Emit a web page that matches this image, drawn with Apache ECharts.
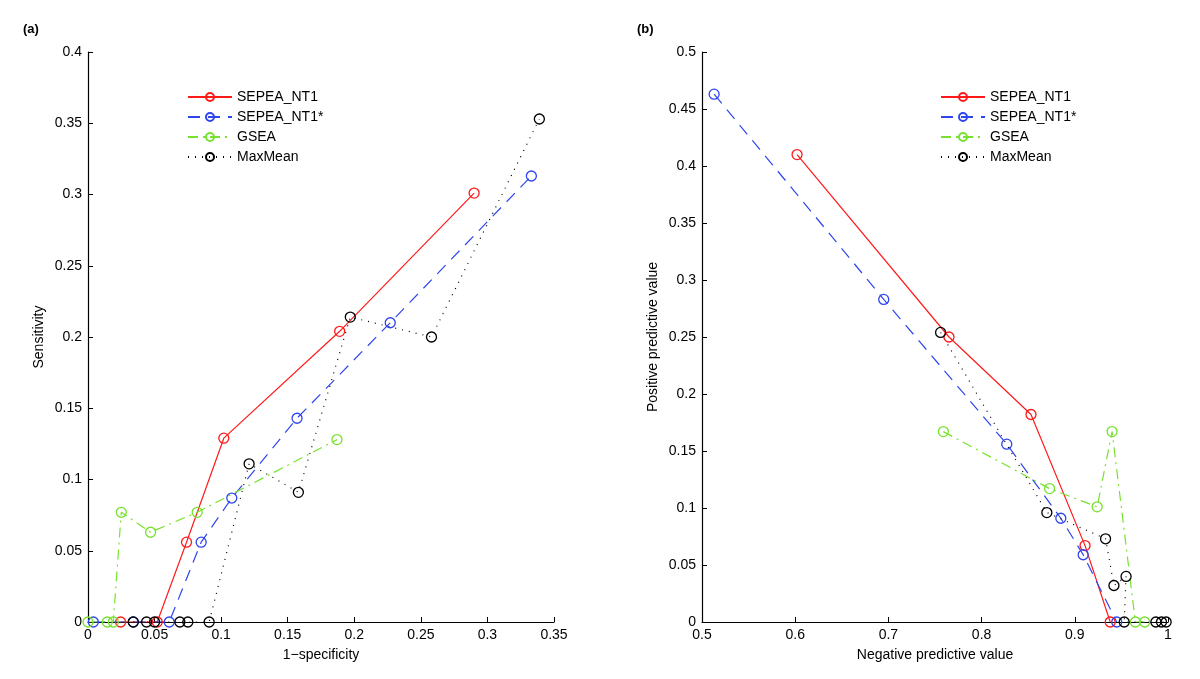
<!DOCTYPE html>
<html>
<head>
<meta charset="utf-8">
<title>SEPEA ROC / predictive value</title>
<script src="https://cdn.jsdelivr.net/npm/echarts@6/dist/echarts.min.js"></script>
<style>
html, body { margin: 0; padding: 0; background: #fff; }
#main { width: 1200px; height: 679px; }
</style>
</head>
<body>
<div id="main"></div>
<script>
// series names
var names = ['SEPEA_NT1', 'SEPEA_NT1*', 'GSEA', 'MaxMean'];

// (a) 1-specificity vs sensitivity
var rocRed = [[0.0245, 0], [0.052, 0], [0.074, 0.056], [0.102, 0.129], [0.189, 0.204], [0.290, 0.301]];
var rocBlue = [[0.004, 0], [0.034, 0], [0.061, 0], [0.085, 0.056], [0.108, 0.087], [0.157, 0.143], [0.227, 0.210], [0.333, 0.313]];
var rocGreen = [[0, 0], [0.0145, 0], [0.019, 0], [0.025, 0.077], [0.047, 0.063], [0.082, 0.077], [0.187, 0.128]];
var rocBlack = [[0.034, 0], [0.044, 0], [0.050, 0], [0.069, 0], [0.075, 0], [0.091, 0], [0.121, 0.111], [0.158, 0.091], [0.197, 0.214], [0.258, 0.200], [0.339, 0.353]];

// (b) negative vs positive predictive value
var pvRed = [[0.602, 0.410], [0.765, 0.250], [0.853, 0.182], [0.911, 0.067], [0.938, 0]];
var pvBlue = [[0.513, 0.463], [0.695, 0.283], [0.827, 0.156], [0.885, 0.091], [0.909, 0.059], [0.945, 0]];
var pvGreen = [[0.759, 0.167], [0.873, 0.117], [0.924, 0.101], [0.940, 0.167], [0.965, 0], [0.975, 0]];
var pvBlack = [[0.756, 0.254], [0.870, 0.096], [0.933, 0.073], [0.942, 0.032], [0.955, 0.040], [0.953, 0], [0.987, 0], [0.993, 0], [0.998, 0]];

var colors = ['#ff1a1a', '#2f45ee', '#77e22e', '#000000'];
var dashes = ['solid', [12, 8], [10, 5, 2, 5], [1, 6]];
var font = 'Liberation Sans, Arial, Helvetica, sans-serif';

function makeSeries(name, idx, data, axisIdx){
    return {
        name: name,
        type: 'line',
        xAxisIndex: axisIdx,
        yAxisIndex: axisIdx,
        data: data,
        symbol: 'circle',
        symbolSize: 10,
        showAllSymbol: true,
        lineStyle: { color: colors[idx], width: 1.2, type: dashes[idx] },
        itemStyle: { color: 'rgba(255,255,255,0)', borderColor: colors[idx], borderWidth: 1.3 },
        emphasis: { disabled: true }
    };
}

function axisBase(){
    return {
        type: 'value',
        splitLine: { show: false },
        axisLine: { show: true, onZero: false, lineStyle: { color: '#000', width: 1.2 } },
        axisTick: { show: true, inside: true, length: 5, lineStyle: { color: '#000' } },
        axisLabel: { color: '#000', fontFamily: font, fontSize: 14, margin: 6 },
        nameLocation: 'middle',
        nameTextStyle: { color: '#000', fontFamily: font, fontSize: 14 }
    };
}

var xA = axisBase(); xA.gridIndex = 0; xA.min = 0; xA.max = 0.35; xA.interval = 0.05; xA.name = '1\u2212specificity'; xA.nameGap = 26;
var yA = axisBase(); yA.gridIndex = 0; yA.min = 0; yA.max = 0.4; yA.interval = 0.05; yA.name = 'Sensitivity'; yA.nameGap = 42;
var xB = axisBase(); xB.gridIndex = 1; xB.min = 0.5; xB.max = 1; xB.interval = 0.1; xB.name = 'Negative predictive value'; xB.nameGap = 26;
var yB = axisBase(); yB.gridIndex = 1; yB.min = 0; yB.max = 0.5; yB.interval = 0.05; yB.name = 'Positive predictive value'; yB.nameGap = 42;

var legendBase = {
    orient: 'vertical',
    itemWidth: 44,
    itemHeight: 10,
    itemGap: 6,
    selectedMode: false,
    textStyle: { color: '#000', fontFamily: font, fontSize: 14 },
    data: names
};

var option = {
    animation: false,
    backgroundColor: '#fff',
    title: [
        { text: '(a)', left: 18, top: 18, textStyle: { fontFamily: font, fontSize: 13, fontWeight: 'bold', color: '#000' } },
        { text: '(b)', left: 632, top: 18, textStyle: { fontFamily: font, fontSize: 13, fontWeight: 'bold', color: '#000' } }
    ],
    legend: [
        Object.assign({}, legendBase, { left: 182, top: 85 }),
        Object.assign({}, legendBase, { left: 935, top: 85 })
    ],
    grid: [
        { left: 88, right: 646, top: 52, bottom: 57 },
        { left: 702, right: 32, top: 52, bottom: 57 }
    ],
    xAxis: [xA, xB],
    yAxis: [yA, yB],
    series: [
        makeSeries(names[0], 0, rocRed, 0),
        makeSeries(names[1], 1, rocBlue, 0),
        makeSeries(names[2], 2, rocGreen, 0),
        makeSeries(names[3], 3, rocBlack, 0),
        makeSeries(names[0], 0, pvRed, 1),
        makeSeries(names[1], 1, pvBlue, 1),
        makeSeries(names[2], 2, pvGreen, 1),
        makeSeries(names[3], 3, pvBlack, 1)
    ]
};

var chart = echarts.init(document.getElementById('main'));
chart.setOption(option);
</script>
</body>
</html>
